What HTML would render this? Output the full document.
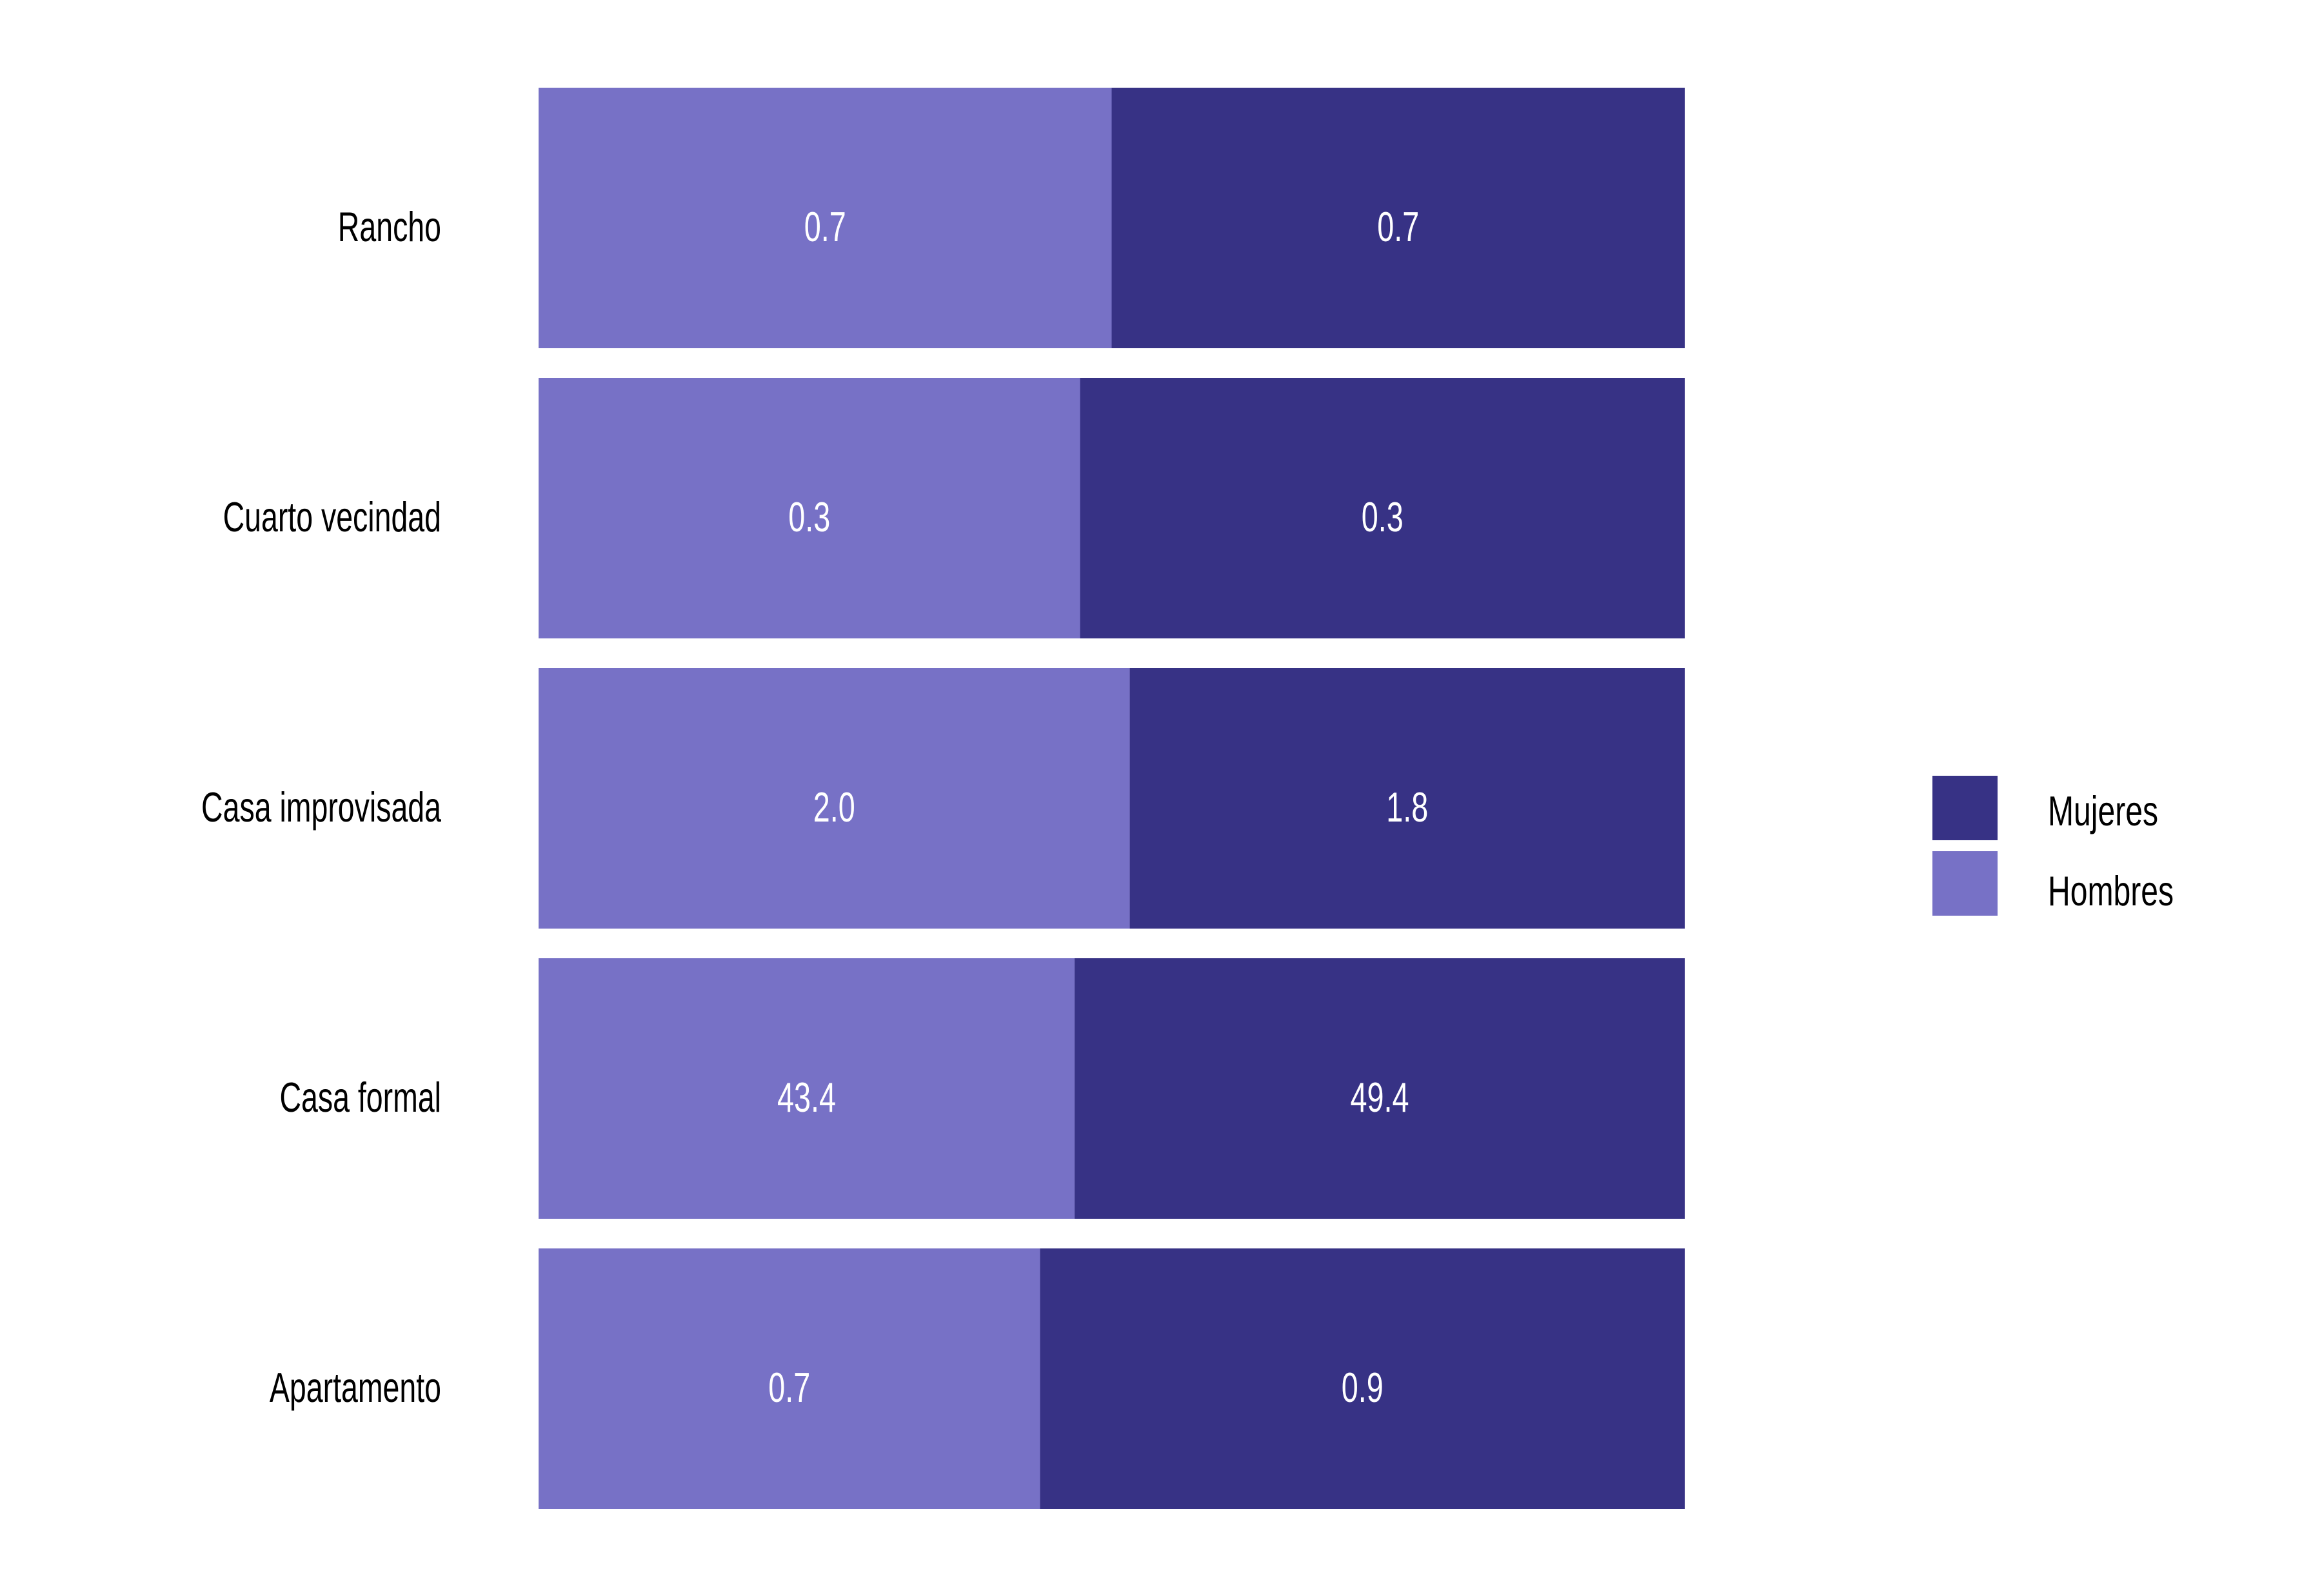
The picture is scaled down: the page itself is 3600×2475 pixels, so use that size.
<!DOCTYPE html>
<html><head><meta charset="utf-8"><style>
html,body{margin:0;padding:0;background:#fff;}
svg{display:block;}
text{font-family:"Liberation Sans",sans-serif;}
</style></head><body>
<svg id="chart" width="3600" height="2475" viewBox="0 0 3600 2475" xmlns="http://www.w3.org/2000/svg">
<g id="bars"></g>
<g id="labels"></g>
<g id="legend">
<rect x="2996" y="1203" width="101" height="100" fill="#373285"/>
<text transform="translate(3175,1280) scale(0.74,1)" font-size="65" fill="#000">Mujeres</text>
<rect x="2996" y="1320" width="101" height="100" fill="#7771C6"/>
<text transform="translate(3175,1404) scale(0.74,1)" font-size="65" fill="#000">Hombres</text>
</g>
</svg>
<script>
const categories = ["Rancho","Cuarto vecindad","Casa improvisada","Casa formal","Apartamento"];
const hombres = [0.7, 0.30, 1.96, 43.4, 0.7];
const mujeres = [0.7, 0.335, 1.84, 49.4, 0.9];

const NS = "http://www.w3.org/2000/svg";
const x0 = 835, x1 = 2612, rowTop = 136, rowStep = 450, rowH = 404;
function xScale(frac){ return x0 + frac*(x1-x0); }
function yRow(i){ return rowTop + i*rowStep; }
const bars = document.getElementById('bars');
const labels = document.getElementById('labels');
function mk(tag, attrs){ const e=document.createElementNS(NS,tag); for(const k in attrs) e.setAttribute(k,attrs[k]); return e; }
categories.forEach((c,i)=>{
  const tot = hombres[i]+mujeres[i];
  const split = xScale(hombres[i]/tot);
  const y = yRow(i);
  const r1 = mk('rect',{x:x0,y:y,width:split-x0,height:rowH,fill:'#7771C6'});
  
  
  bars.appendChild(r1);
  const r2 = mk('rect',{x:split,y:y,width:x1-split,height:rowH,fill:'#373285'});
  
  
  bars.appendChild(r2);
  const by = y + rowH/2 + 36;
  const t1 = mk('text',{transform:`translate(${(x0+split)/2},${by}) scale(0.72,1)`,'font-size':65,fill:'#fff','text-anchor':'middle'});
  t1.textContent = hombres[i].toFixed(1);
  
  
  bars.appendChild(t1);
  const t2 = mk('text',{transform:`translate(${(split+x1)/2},${by}) scale(0.72,1)`,'font-size':65,fill:'#fff','text-anchor':'middle'});
  t2.textContent = mujeres[i].toFixed(1);
  
  
  bars.appendChild(t2);
  const cl = mk('text',{transform:`translate(684,${by}) scale(0.715,1)`,'font-size':65,fill:'#000','text-anchor':'end'});
  cl.textContent = c;
  
  
  labels.appendChild(cl);
});
</script>
</body></html>
